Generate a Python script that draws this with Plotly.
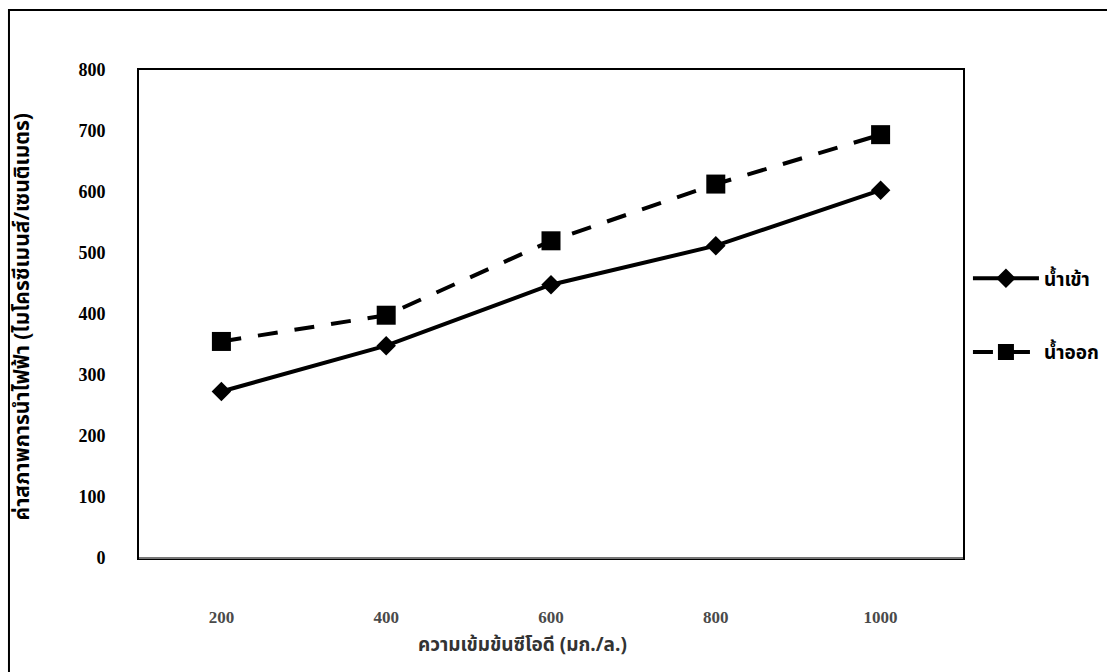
import plotly.graph_objects as go

# COD concentration (mg/L) categories and conductivity readings (µS/cm)
cod_levels = ["200", "400", "600", "800", "1000"]
influent = [273, 348, 448, 512, 603]
effluent = [355, 398, 520, 613, 694]
y_ticks = [0, 100, 200, 300, 400, 500, 600, 700, 800]

series_names = ["น้ำเข้า", "น้ำออก"]

thai_font = "Noto Sans Thai, Loma, Garuda, Tlwg Typo, Liberation Serif, serif"
num_font = "Liberation Serif, Times New Roman, serif"

fig = go.Figure()

fig.add_trace(go.Scatter(
    x=cod_levels, y=influent, name=f"<b>{series_names[0]}</b>", mode="lines+markers",
    line=dict(color="black", width=4),
    marker=dict(symbol="diamond", size=15, color="black"),
    legendgroup="a",
))
fig.add_trace(go.Scatter(
    x=cod_levels, y=effluent, name=f"<b>{series_names[1]}</b>", mode="lines+markers",
    line=dict(color="black", width=4, dash="20px,17px"),
    marker=dict(symbol="square", size=19, color="black"),
    legendgroup="b",
))

fig.update_layout(
    width=1107, height=672,
    margin=dict(l=139, r=144, t=70, b=114, autoexpand=False),
    paper_bgcolor="white", plot_bgcolor="white",
    showlegend=True,
    legend=dict(
        x=1.006, y=0.612, xanchor="left", yanchor="top",
        font=dict(family=thai_font, size=19, color="black"),
        tracegroupgap=46, itemwidth=66,
        bgcolor="rgba(0,0,0,0)",
    ),
    xaxis=dict(
        type="category", range=[-0.5, 4.5],
        tickvals=cod_levels, ticktext=[f"<b>{c}</b>" for c in cod_levels],
        showgrid=False, zeroline=False,
        showline=True, linecolor="black", linewidth=2, mirror=True,
        ticks="", ticklabelstandoff=43,
        tickfont=dict(family=num_font, size=17, color="#4a4a4a"),
    ),
    yaxis=dict(
        range=[0, 800], tickvals=y_ticks,
        ticktext=[f"<b>{v}</b>" for v in y_ticks],
        showgrid=False, zeroline=False,
        showline=True, linecolor="black", linewidth=2, mirror=True,
        ticks="", ticklabelstandoff=28,
        tickfont=dict(family=num_font, size=18, color="black"),
    ),
)

# softer grey baseline along the bottom of the plot frame
fig.add_shape(
    type="line", xref="paper", yref="paper",
    x0=0, x1=1, y0=0, y1=0,
    line=dict(color="#777", width=2),
)

# y-axis title, placed slightly below the plot's vertical centre
fig.add_annotation(
    text="<b>ค่าสภาพการนำไฟฟ้า (ไมโครซีเมนส์/เซนติเมตร)</b>",
    xref="paper", yref="paper", x=-0.142, y=0.495, textangle=-90,
    xanchor="center", yanchor="middle", showarrow=False,
    font=dict(family=thai_font, size=21, color="black"),
)

# x-axis title
fig.add_annotation(
    text="<b>ความเข้มข้นซีโอดี (มก./ล.)</b>",
    xref="paper", yref="paper", x=0.465, y=-0.18,
    xanchor="center", yanchor="middle", showarrow=False,
    font=dict(family=thai_font, size=19, color="#333"),
)

# outer frame around the chart
fig.add_shape(
    type="rect", xref="paper", yref="paper",
    x0=-0.1578, x1=1.2, y0=-0.3, y1=1.123,
    line=dict(color="black", width=2), fillcolor="rgba(0,0,0,0)",
    layer="below",
)

fig.write_html("out.html")
